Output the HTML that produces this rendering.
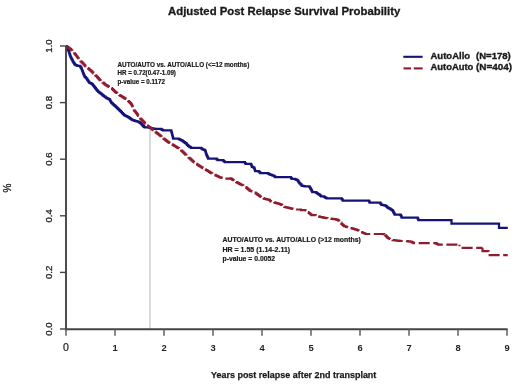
<!DOCTYPE html>
<html><head><meta charset="utf-8"><style>
html,body{margin:0;padding:0;background:#fff;width:520px;height:388px;overflow:hidden}
svg{display:block;filter:blur(0.35px);font-family:"Liberation Sans",sans-serif}
</style></head><body>
<svg width="520" height="388" viewBox="0 0 520 388">
<rect width="520" height="388" fill="#fff"/>
<text x="168.00" y="14.7" font-size="11.3" font-weight="bold" fill="#1a1a1a" stroke="#1a1a1a" stroke-width="0.3" textLength="232.23" lengthAdjust="spacingAndGlyphs">Adjusted Post Relapse Survival Probability</text>

<line x1="150" y1="129" x2="150" y2="329" stroke="#bdbdbd" stroke-width="1.1"/>
<path d="M66.00,46.00 L66.52,46.00 L66.52,47.04 L67.04,47.04 L67.04,48.08 L67.56,48.08 L67.56,49.12 L68.08,49.12 L68.08,50.16 L68.60,50.16 L68.60,51.20 L68.95,51.20 L68.95,52.23 L69.30,52.23 L69.30,53.27 L69.65,53.27 L69.65,54.30 L70.00,54.30 L70.00,55.33 L70.35,55.33 L70.35,56.37 L70.70,56.37 L70.70,57.40 L71.22,57.40 L71.22,58.42 L71.75,58.42 L71.75,59.45 L72.28,59.45 L72.28,60.48 L72.80,60.48 L72.80,61.50 L73.47,61.50 L73.47,62.53 L74.13,62.53 L74.13,63.57 L74.80,63.57 L74.80,64.60 L75.67,64.60 L75.67,65.03 L76.53,65.03 L76.53,65.47 L77.40,65.47 L77.40,65.90 L80.00,65.90 L80.00,66.50 L80.75,66.50 L80.75,67.70 L81.50,67.70 L81.50,68.90 L81.92,68.90 L81.92,70.03 L82.35,70.03 L82.35,71.15 L82.78,71.15 L82.78,72.28 L83.20,72.28 L83.20,73.40 L83.60,73.40 L83.60,74.30 L84.00,74.30 L84.00,75.20 L84.40,75.20 L84.40,76.10 L84.80,76.10 L84.80,77.00 L85.95,77.00 L85.95,78.25 L87.10,78.25 L87.10,79.50 L87.77,79.50 L87.77,80.50 L88.43,80.50 L88.43,81.50 L89.10,81.50 L89.10,82.50 L90.15,82.50 L90.15,83.05 L91.20,83.05 L91.20,83.60 L92.00,83.60 L92.00,84.10 L92.78,84.10 L92.78,85.12 L93.55,85.12 L93.55,86.15 L94.32,86.15 L94.32,87.17 L95.10,87.17 L95.10,88.20 L95.88,88.20 L95.88,89.12 L96.65,89.12 L96.65,90.05 L97.42,90.05 L97.42,90.98 L98.20,90.98 L98.20,91.90 L99.22,91.90 L99.22,92.68 L100.25,92.68 L100.25,93.45 L101.28,93.45 L101.28,94.22 L102.30,94.22 L102.30,95.00 L103.33,95.00 L103.33,95.75 L104.35,95.75 L104.35,96.50 L105.38,96.50 L105.38,97.25 L106.40,97.25 L106.40,98.00 L107.43,98.00 L107.43,98.53 L108.47,98.53 L108.47,99.07 L109.50,99.07 L109.50,99.60 L110.03,99.60 L110.03,100.50 L110.55,100.50 L110.55,101.40 L111.07,101.40 L111.07,102.30 L111.60,102.30 L111.60,103.20 L112.62,103.20 L112.62,104.10 L113.65,104.10 L113.65,105.00 L114.67,105.00 L114.67,105.90 L115.70,105.90 L115.70,106.80 L116.72,106.80 L116.72,107.83 L117.75,107.83 L117.75,108.85 L118.78,108.85 L118.78,109.88 L119.80,109.88 L119.80,110.90 L120.85,110.90 L120.85,111.95 L121.90,111.95 L121.90,113.00 L122.95,113.00 L122.95,114.05 L124.00,114.05 L124.00,115.10 L125.00,115.10 L125.00,115.60 L126.00,115.60 L126.00,116.10 L127.00,116.10 L127.00,116.60 L128.00,116.60 L128.00,117.10 L128.88,117.10 L128.88,117.72 L129.75,117.72 L129.75,118.35 L130.62,118.35 L130.62,118.97 L131.50,118.97 L131.50,119.60 L132.53,119.60 L132.53,120.00 L133.57,120.00 L133.57,120.40 L134.60,120.40 L134.60,120.80 L135.63,120.80 L135.63,121.07 L136.67,121.07 L136.67,121.33 L137.70,121.33 L137.70,121.60 L138.73,121.60 L138.73,122.23 L139.77,122.23 L139.77,122.87 L140.80,122.87 L140.80,123.50 L141.57,123.50 L141.57,124.40 L142.33,124.40 L142.33,125.30 L143.10,125.30 L143.10,126.20 L143.90,126.20 L143.90,126.80 L144.70,126.80 L144.70,127.40 L147.80,127.40 L147.80,127.40 L148.83,127.40 L148.83,127.67 L149.87,127.67 L149.87,127.93 L150.90,127.93 L150.90,128.20 L151.93,128.20 L151.93,128.35 L152.95,128.35 L152.95,128.50 L153.97,128.50 L153.97,128.65 L155.00,128.65 L155.00,128.80 L161.20,128.80 L161.20,129.30 L162.10,129.30 L162.10,129.80 L163.00,129.80 L163.00,130.30 L171.00,130.30 L171.00,130.40 L171.28,130.40 L171.28,131.43 L171.55,131.43 L171.55,132.45 L171.82,132.45 L171.82,133.47 L172.10,133.47 L172.10,134.50 L172.38,134.50 L172.38,135.53 L172.65,135.53 L172.65,136.55 L172.92,136.55 L172.92,137.57 L173.20,137.57 L173.20,138.60 L178.70,138.60 L178.70,139.10 L179.73,139.10 L179.73,139.60 L180.77,139.60 L180.77,140.10 L181.80,140.10 L181.80,140.60 L182.83,140.60 L182.83,141.38 L183.85,141.38 L183.85,142.15 L184.88,142.15 L184.88,142.92 L185.90,142.92 L185.90,143.70 L186.95,143.70 L186.95,144.75 L188.00,144.75 L188.00,145.80 L189.00,145.80 L189.00,146.50 L190.00,146.50 L190.00,147.20 L191.00,147.20 L191.00,147.90 L200.30,147.90 L200.30,147.90 L201.35,147.90 L201.35,148.60 L202.40,148.60 L202.40,149.30 L203.27,149.30 L203.27,149.63 L204.13,149.63 L204.13,149.97 L205.00,149.97 L205.00,150.30 L205.30,150.30 L205.30,151.24 L205.60,151.24 L205.60,152.18 L205.90,152.18 L205.90,153.12 L206.20,153.12 L206.20,154.06 L206.50,154.06 L206.50,155.00 L206.93,155.00 L206.93,155.90 L207.35,155.90 L207.35,156.80 L207.77,156.80 L207.77,157.70 L208.20,157.70 L208.20,158.60 L215.80,158.60 L215.80,158.60 L216.65,158.60 L216.65,159.40 L217.50,159.40 L217.50,160.20 L223.00,160.20 L223.00,160.60 L223.90,160.60 L223.90,161.40 L224.80,161.40 L224.80,162.20 L230.00,162.20 L230.00,162.20 L244.30,162.20 L244.30,162.20 L244.95,162.20 L244.95,163.00 L245.60,163.00 L245.60,163.80 L251.00,163.80 L251.00,164.20 L251.33,164.20 L251.33,165.10 L251.67,165.10 L251.67,166.00 L252.00,166.00 L252.00,166.90 L253.05,166.90 L253.05,167.35 L254.10,167.35 L254.10,167.80 L254.43,167.80 L254.43,168.87 L254.77,168.87 L254.77,169.93 L255.10,169.93 L255.10,171.00 L258.70,171.00 L258.70,171.50 L259.50,171.50 L259.50,172.25 L260.30,172.25 L260.30,173.00 L268.00,173.00 L268.00,173.60 L269.00,173.60 L269.00,174.10 L270.00,174.10 L270.00,174.60 L271.03,174.60 L271.03,174.93 L272.07,174.93 L272.07,175.27 L273.10,175.27 L273.10,175.60 L274.15,175.60 L274.15,176.40 L275.20,176.40 L275.20,177.20 L290.40,177.20 L290.40,177.20 L291.05,177.20 L291.05,178.00 L291.70,178.00 L291.70,178.80 L295.30,178.80 L295.30,179.30 L296.35,179.30 L296.35,179.80 L297.40,179.80 L297.40,180.30 L298.07,180.30 L298.07,181.33 L298.73,181.33 L298.73,182.37 L299.40,182.37 L299.40,183.40 L300.45,183.40 L300.45,184.45 L301.50,184.45 L301.50,185.50 L302.53,185.50 L302.53,185.80 L303.57,185.80 L303.57,186.10 L304.60,186.10 L304.60,186.40 L309.20,186.40 L309.20,186.50 L309.73,186.50 L309.73,187.40 L310.25,187.40 L310.25,188.30 L310.77,188.30 L310.77,189.20 L311.30,189.20 L311.30,190.10 L311.80,190.10 L311.80,191.15 L312.30,191.15 L312.30,192.20 L315.90,192.20 L315.90,192.70 L316.93,192.70 L316.93,193.37 L317.97,193.37 L317.97,194.03 L319.00,194.03 L319.00,194.70 L320.05,194.70 L320.05,195.50 L321.10,195.50 L321.10,196.30 L324.00,196.30 L324.00,196.90 L324.87,196.90 L324.87,197.40 L325.73,197.40 L325.73,197.90 L326.60,197.90 L326.60,198.40 L340.80,198.40 L340.80,198.40 L341.75,198.40 L341.75,199.45 L342.70,199.45 L342.70,200.50 L368.40,200.50 L368.40,200.60 L369.05,200.60 L369.05,201.60 L369.70,201.60 L369.70,202.60 L379.30,202.60 L379.30,202.60 L380.30,202.60 L380.30,203.70 L381.30,203.70 L381.30,204.80 L382.25,204.80 L382.25,204.98 L383.20,204.98 L383.20,205.15 L384.15,205.15 L384.15,205.32 L385.10,205.32 L385.10,205.50 L386.10,205.50 L386.10,206.45 L387.10,206.45 L387.10,207.40 L388.23,207.40 L388.23,208.07 L389.37,208.07 L389.37,208.73 L390.50,208.73 L390.50,209.40 L391.60,209.40 L391.60,210.10 L392.70,210.10 L392.70,210.80 L393.20,210.80 L393.20,211.78 L393.70,211.78 L393.70,212.75 L394.20,212.75 L394.20,213.72 L394.70,213.72 L394.70,214.70 L400.40,214.70 L400.40,214.80 L400.83,214.80 L400.83,215.70 L401.27,215.70 L401.27,216.60 L401.70,216.60 L401.70,217.50 L417.20,217.50 L417.20,217.50 L417.63,217.50 L417.63,218.40 L418.07,218.40 L418.07,219.30 L418.50,219.30 L418.50,220.20 L451.00,220.20 L451.00,220.20 L451.50,220.20 L451.50,223.60 L498.50,223.60 L498.50,223.60 L499.00,223.60 L499.00,227.90 L507.80,227.90 L507.80,227.90" fill="none" stroke="#151476" stroke-width="2.25" stroke-linejoin="miter"/>
<path d="M66.00,46.00 L67.05,46.00 L67.05,46.80 L68.10,46.80 L68.10,47.60 L69.15,47.60 L69.15,48.40 L70.20,48.40 L70.20,49.20 L71.22,49.20 L71.22,50.23 L72.25,50.23 L72.25,51.25 L73.28,51.25 L73.28,52.27 L74.30,52.27 L74.30,53.30 L75.04,53.30 L75.04,54.29 L75.79,54.29 L75.79,55.27 L76.53,55.27 L76.53,56.26 L77.27,56.26 L77.27,57.24 L78.01,57.24 L78.01,58.23 L78.76,58.23 L78.76,59.21 L79.50,59.21 L79.50,60.20 L80.52,60.20 L80.52,61.28 L81.54,61.28 L81.54,62.36 L82.56,62.36 L82.56,63.44 L83.58,63.44 L83.58,64.52 L84.60,64.52 L84.60,65.60 L85.53,65.60 L85.53,66.40 L86.47,66.40 L86.47,67.20 L87.40,67.20 L87.40,68.00 L88.33,68.00 L88.33,68.80 L89.27,68.80 L89.27,69.60 L90.20,69.60 L90.20,70.40 L91.22,70.40 L91.22,71.38 L92.24,71.38 L92.24,72.36 L93.26,72.36 L93.26,73.34 L94.28,73.34 L94.28,74.32 L95.30,74.32 L95.30,75.30 L96.17,75.30 L96.17,76.25 L97.03,76.25 L97.03,77.20 L97.90,77.20 L97.90,78.15 L98.77,78.15 L98.77,79.10 L99.63,79.10 L99.63,80.05 L100.50,80.05 L100.50,81.00 L101.52,81.00 L101.52,81.82 L102.54,81.82 L102.54,82.64 L103.56,82.64 L103.56,83.46 L104.58,83.46 L104.58,84.28 L105.60,84.28 L105.60,85.10 L106.68,85.10 L106.68,85.70 L107.76,85.70 L107.76,86.30 L108.84,86.30 L108.84,86.90 L109.92,86.90 L109.92,87.50 L111.00,87.50 L111.00,88.10 L112.05,88.10 L112.05,89.12 L113.10,89.12 L113.10,90.15 L114.15,90.15 L114.15,91.17 L115.20,91.17 L115.20,92.20 L116.22,92.20 L116.22,92.92 L117.24,92.92 L117.24,93.64 L118.26,93.64 L118.26,94.36 L119.28,94.36 L119.28,95.08 L120.30,95.08 L120.30,95.80 L121.34,95.80 L121.34,96.44 L122.38,96.44 L122.38,97.08 L123.42,97.08 L123.42,97.72 L124.46,97.72 L124.46,98.36 L125.50,98.36 L125.50,99.00 L126.30,99.00 L126.30,99.55 L127.10,99.55 L127.10,100.10 L128.10,100.10 L128.10,101.13 L129.10,101.13 L129.10,102.17 L130.10,102.17 L130.10,103.20 L131.05,103.20 L131.05,104.35 L132.00,104.35 L132.00,105.50 L132.38,105.50 L132.38,106.46 L132.76,106.46 L132.76,107.42 L133.14,107.42 L133.14,108.38 L133.52,108.38 L133.52,109.34 L133.90,109.34 L133.90,110.30 L134.62,110.30 L134.62,111.20 L135.35,111.20 L135.35,112.10 L136.08,112.10 L136.08,113.00 L136.80,113.00 L136.80,113.90 L137.43,113.90 L137.43,114.85 L138.05,114.85 L138.05,115.80 L138.68,115.80 L138.68,116.75 L139.30,116.75 L139.30,117.70 L140.25,117.70 L140.25,118.67 L141.20,118.67 L141.20,119.65 L142.15,119.65 L142.15,120.62 L143.10,120.62 L143.10,121.60 L144.07,121.60 L144.07,122.57 L145.05,122.57 L145.05,123.55 L146.03,123.55 L146.03,124.53 L147.00,124.53 L147.00,125.50 L147.97,125.50 L147.97,126.25 L148.95,126.25 L148.95,127.00 L149.93,127.00 L149.93,127.75 L150.90,127.75 L150.90,128.50 L151.85,128.50 L151.85,129.28 L152.80,129.28 L152.80,130.05 L153.75,130.05 L153.75,130.82 L154.70,130.82 L154.70,131.60 L155.67,131.60 L155.67,132.38 L156.65,132.38 L156.65,133.15 L157.62,133.15 L157.62,133.92 L158.60,133.92 L158.60,134.70 L159.57,134.70 L159.57,135.47 L160.55,135.47 L160.55,136.25 L161.53,136.25 L161.53,137.03 L162.50,137.03 L162.50,137.80 L163.44,137.80 L163.44,138.58 L164.38,138.58 L164.38,139.36 L165.32,139.36 L165.32,140.14 L166.26,140.14 L166.26,140.92 L167.20,140.92 L167.20,141.70 L168.28,141.70 L168.28,142.35 L169.37,142.35 L169.37,143.00 L170.45,143.00 L170.45,143.65 L171.53,143.65 L171.53,144.30 L172.62,144.30 L172.62,144.95 L173.70,144.95 L173.70,145.60 L174.77,145.60 L174.77,146.25 L175.83,146.25 L175.83,146.90 L176.90,146.90 L176.90,147.55 L177.97,147.55 L177.97,148.20 L179.03,148.20 L179.03,148.85 L180.10,148.85 L180.10,149.50 L181.15,149.50 L181.15,150.55 L182.20,150.55 L182.20,151.60 L183.25,151.60 L183.25,152.65 L184.30,152.65 L184.30,153.70 L185.35,153.70 L185.35,154.75 L186.40,154.75 L186.40,155.80 L187.48,155.80 L187.48,156.77 L188.57,156.77 L188.57,157.73 L189.65,157.73 L189.65,158.70 L190.73,158.70 L190.73,159.67 L191.82,159.67 L191.82,160.63 L192.90,160.63 L192.90,161.60 L193.97,161.60 L193.97,162.35 L195.03,162.35 L195.03,163.10 L196.10,163.10 L196.10,163.85 L197.17,163.85 L197.17,164.60 L198.23,164.60 L198.23,165.35 L199.30,165.35 L199.30,166.10 L200.38,166.10 L200.38,166.75 L201.47,166.75 L201.47,167.40 L202.55,167.40 L202.55,168.05 L203.63,168.05 L203.63,168.70 L204.72,168.70 L204.72,169.35 L205.80,169.35 L205.80,170.00 L206.87,170.00 L206.87,170.63 L207.93,170.63 L207.93,171.27 L209.00,171.27 L209.00,171.90 L210.07,171.90 L210.07,172.53 L211.13,172.53 L211.13,173.17 L212.20,173.17 L212.20,173.80 L213.28,173.80 L213.28,174.33 L214.37,174.33 L214.37,174.87 L215.45,174.87 L215.45,175.40 L216.53,175.40 L216.53,175.93 L217.62,175.93 L217.62,176.47 L218.70,176.47 L218.70,177.00 L219.72,177.00 L219.72,177.32 L220.74,177.32 L220.74,177.64 L221.76,177.64 L221.76,177.96 L222.78,177.96 L222.78,178.28 L223.80,178.28 L223.80,178.60 L230.20,178.60 L230.20,178.30 L231.15,178.30 L231.15,178.95 L232.10,178.95 L232.10,179.60 L233.05,179.60 L233.05,180.25 L234.00,180.25 L234.00,180.90 L235.04,180.90 L235.04,181.48 L236.08,181.48 L236.08,182.06 L237.12,182.06 L237.12,182.64 L238.16,182.64 L238.16,183.22 L239.20,183.22 L239.20,183.80 L240.22,183.80 L240.22,184.28 L241.24,184.28 L241.24,184.76 L242.26,184.76 L242.26,185.24 L243.28,185.24 L243.28,185.72 L244.30,185.72 L244.30,186.20 L245.34,186.20 L245.34,187.08 L246.38,187.08 L246.38,187.96 L247.42,187.96 L247.42,188.84 L248.46,188.84 L248.46,189.72 L249.50,189.72 L249.50,190.60 L250.52,190.60 L250.52,190.98 L251.54,190.98 L251.54,191.36 L252.56,191.36 L252.56,191.74 L253.58,191.74 L253.58,192.12 L254.60,192.12 L254.60,192.50 L255.64,192.50 L255.64,193.28 L256.68,193.28 L256.68,194.06 L257.72,194.06 L257.72,194.84 L258.76,194.84 L258.76,195.62 L259.80,195.62 L259.80,196.40 L260.77,196.40 L260.77,196.97 L261.75,196.97 L261.75,197.55 L262.73,197.55 L262.73,198.12 L263.70,198.12 L263.70,198.70 L264.72,198.70 L264.72,198.92 L265.74,198.92 L265.74,199.14 L266.76,199.14 L266.76,199.36 L267.78,199.36 L267.78,199.58 L268.80,199.58 L268.80,199.80 L270.00,199.80 L270.00,201.10 L271.04,201.10 L271.04,201.44 L272.08,201.44 L272.08,201.78 L273.12,201.78 L273.12,202.12 L274.16,202.12 L274.16,202.46 L275.20,202.46 L275.20,202.80 L276.22,202.80 L276.22,203.10 L277.24,203.10 L277.24,203.40 L278.26,203.40 L278.26,203.70 L279.28,203.70 L279.28,204.00 L280.30,204.00 L280.30,204.30 L281.27,204.30 L281.27,204.95 L282.25,204.95 L282.25,205.60 L283.23,205.60 L283.23,206.25 L284.20,206.25 L284.20,206.90 L285.22,206.90 L285.22,207.16 L286.24,207.16 L286.24,207.42 L287.26,207.42 L287.26,207.68 L288.28,207.68 L288.28,207.94 L289.30,207.94 L289.30,208.20 L290.38,208.20 L290.38,208.42 L291.47,208.42 L291.47,208.63 L292.55,208.63 L292.55,208.85 L293.63,208.85 L293.63,209.07 L294.72,209.07 L294.72,209.28 L295.80,209.28 L295.80,209.50 L300.90,209.50 L300.90,210.10 L305.50,210.10 L305.50,210.50 L306.53,210.50 L306.53,211.33 L307.57,211.33 L307.57,212.17 L308.60,212.17 L308.60,213.00 L309.53,213.00 L309.53,213.70 L310.47,213.70 L310.47,214.40 L311.40,214.40 L311.40,215.10 L315.80,215.10 L315.80,215.60 L316.90,215.60 L316.90,215.95 L318.00,215.95 L318.00,216.30 L319.10,216.30 L319.10,216.65 L320.20,216.65 L320.20,217.00 L321.27,217.00 L321.27,217.20 L322.33,217.20 L322.33,217.40 L323.40,217.40 L323.40,217.60 L324.47,217.60 L324.47,217.80 L325.53,217.80 L325.53,218.00 L326.60,218.00 L326.60,218.20 L327.56,218.20 L327.56,218.32 L328.53,218.32 L328.53,218.45 L329.49,218.45 L329.49,218.57 L330.45,218.57 L330.45,218.70 L331.41,218.70 L331.41,218.82 L332.38,218.82 L332.38,218.95 L333.34,218.95 L333.34,219.07 L334.30,219.07 L334.30,219.20 L335.37,219.20 L335.37,219.40 L336.43,219.40 L336.43,219.60 L337.50,219.60 L337.50,219.80 L338.35,219.80 L338.35,220.65 L339.20,220.65 L339.20,221.50 L340.30,221.50 L340.30,222.65 L341.40,222.65 L341.40,223.80 L342.27,223.80 L342.27,224.60 L343.13,224.60 L343.13,225.40 L344.00,225.40 L344.00,226.20 L345.08,226.20 L345.08,226.50 L346.17,226.50 L346.17,226.80 L347.25,226.80 L347.25,227.10 L348.33,227.10 L348.33,227.40 L349.42,227.40 L349.42,227.70 L350.50,227.70 L350.50,228.00 L351.57,228.00 L351.57,228.33 L352.63,228.33 L352.63,228.67 L353.70,228.67 L353.70,229.00 L354.77,229.00 L354.77,229.33 L355.83,229.33 L355.83,229.67 L356.90,229.67 L356.90,230.00 L357.94,230.00 L357.94,230.50 L358.98,230.50 L358.98,231.00 L360.02,231.00 L360.02,231.50 L361.06,231.50 L361.06,232.00 L362.10,232.00 L362.10,232.50 L363.23,232.50 L363.23,233.00 L364.37,233.00 L364.37,233.50 L365.50,233.50 L365.50,234.00 L383.20,234.00 L383.20,234.10 L384.20,234.10 L384.20,234.75 L385.20,234.75" fill="none" stroke="#901a2e" stroke-width="2.2" stroke-dasharray="11 3.6" stroke-dashoffset="0.00"/>
<path d="M385.20,234.75 L385.20,235.40 L386.03,235.40 L386.03,236.27 L386.87,236.27 L386.87,237.13 L387.70,237.13 L387.70,238.00 L388.68,238.00 L388.68,238.50 L389.65,238.50 L389.65,239.00 L390.62,239.00 L390.62,239.50 L391.60,239.50 L391.60,240.00 L392.60,240.00 L392.60,240.11 L393.60,240.11 L393.60,240.22 L394.60,240.22 L394.60,240.33 L395.60,240.33 L395.60,240.44 L396.60,240.44 L396.60,240.56 L397.60,240.56 L397.60,240.67 L398.60,240.67 L398.60,240.78 L399.60,240.78 L399.60,240.89 L400.60,240.89 L400.60,241.00 L406.00,241.00 L406.94,241.00 L406.94,241.14 L407.88,241.14 L407.88,241.28 L408.82,241.28 L408.82,241.42 L409.76,241.42 L409.76,241.56 L410.70,241.56 L410.70,241.70 L411.63,241.70 L411.63,242.20 L412.57,242.20 L412.57,242.70 L413.50,242.70 L413.50,243.20 L431.30,243.20 L435.80,243.20 L435.80,243.40 L436.67,243.40 L436.67,243.83 L437.53,243.83 L437.53,244.27 L438.40,244.27 L438.40,244.70 L459.50,244.70" fill="none" stroke="#901a2e" stroke-width="2.2" stroke-dasharray="11 3.6" stroke-dashoffset="1.85"/>
<path d="M459.50,244.70 L459.50,245.00 L459.50,247.80 L482.50,247.80" fill="none" stroke="#901a2e" stroke-width="2.2" stroke-dasharray="11 3.6" stroke-dashoffset="9.40"/>
<path d="M482.50,247.80" fill="none" stroke="#901a2e" stroke-width="2.2" stroke-dasharray="11 3.6" stroke-dashoffset="13.20"/>
<path d="M482.50,247.80 L482.50,251.10 L488.50,251.10 L488.50,255.20 L507.70,255.20" fill="none" stroke="#901a2e" stroke-width="2.2" stroke-dasharray="11 3.6" stroke-dashoffset="1.10"/>
<path d="M507.70,255.20" fill="none" stroke="#901a2e" stroke-width="2.2" stroke-dasharray="11 3.6" stroke-dashoffset="11.30"/>

<line x1="66" y1="46" x2="66" y2="330.2" stroke="#444" stroke-width="1.9"/>
<line x1="65.1" y1="329.2" x2="507.6" y2="329.2" stroke="#444" stroke-width="1.9"/>
<line x1="60" y1="329.0" x2="66" y2="329.0" stroke="#444" stroke-width="1.4"/>
<text transform="translate(52.3,329.0) rotate(-90)" text-anchor="middle" font-size="9.6" fill="#222" stroke="#222" stroke-width="0.3">0.0</text>
<line x1="60" y1="272.4" x2="66" y2="272.4" stroke="#444" stroke-width="1.4"/>
<text transform="translate(52.3,272.4) rotate(-90)" text-anchor="middle" font-size="9.6" fill="#222" stroke="#222" stroke-width="0.3">0.2</text>
<line x1="60" y1="215.8" x2="66" y2="215.8" stroke="#444" stroke-width="1.4"/>
<text transform="translate(52.3,215.8) rotate(-90)" text-anchor="middle" font-size="9.6" fill="#222" stroke="#222" stroke-width="0.3">0.4</text>
<line x1="60" y1="159.2" x2="66" y2="159.2" stroke="#444" stroke-width="1.4"/>
<text transform="translate(52.3,159.2) rotate(-90)" text-anchor="middle" font-size="9.6" fill="#222" stroke="#222" stroke-width="0.3">0.6</text>
<line x1="60" y1="102.6" x2="66" y2="102.6" stroke="#444" stroke-width="1.4"/>
<text transform="translate(52.3,102.6) rotate(-90)" text-anchor="middle" font-size="9.6" fill="#222" stroke="#222" stroke-width="0.3">0.8</text>
<line x1="60" y1="46.0" x2="66" y2="46.0" stroke="#444" stroke-width="1.4"/>
<text transform="translate(52.3,46.0) rotate(-90)" text-anchor="middle" font-size="9.6" fill="#222" stroke="#222" stroke-width="0.3">1.0</text>
<line x1="66" y1="329" x2="66" y2="335.8" stroke="#555" stroke-width="1.4"/>
<text x="66" y="351.2" text-anchor="middle" font-size="10.6" fill="#222" stroke="#222" stroke-width="0.2">0</text>
<line x1="115" y1="329" x2="115" y2="335.8" stroke="#555" stroke-width="1.4"/>
<text x="115" y="351.2" text-anchor="middle" font-size="9.4" font-weight="bold" fill="#222">1</text>
<line x1="164" y1="329" x2="164" y2="335.8" stroke="#555" stroke-width="1.4"/>
<text x="164" y="351.2" text-anchor="middle" font-size="9.4" font-weight="bold" fill="#222">2</text>
<line x1="213" y1="329" x2="213" y2="335.8" stroke="#555" stroke-width="1.4"/>
<text x="213" y="351.2" text-anchor="middle" font-size="9.4" font-weight="bold" fill="#222">3</text>
<line x1="262" y1="329" x2="262" y2="335.8" stroke="#555" stroke-width="1.4"/>
<text x="262" y="351.2" text-anchor="middle" font-size="9.4" font-weight="bold" fill="#222">4</text>
<line x1="311" y1="329" x2="311" y2="335.8" stroke="#555" stroke-width="1.4"/>
<text x="311" y="351.2" text-anchor="middle" font-size="9.4" font-weight="bold" fill="#222">5</text>
<line x1="360" y1="329" x2="360" y2="335.8" stroke="#555" stroke-width="1.4"/>
<text x="360" y="351.2" text-anchor="middle" font-size="9.4" font-weight="bold" fill="#222">6</text>
<line x1="409" y1="329" x2="409" y2="335.8" stroke="#555" stroke-width="1.4"/>
<text x="409" y="351.2" text-anchor="middle" font-size="9.4" font-weight="bold" fill="#222">7</text>
<line x1="458" y1="329" x2="458" y2="335.8" stroke="#555" stroke-width="1.4"/>
<text x="458" y="351.2" text-anchor="middle" font-size="9.4" font-weight="bold" fill="#222">8</text>
<line x1="507" y1="329" x2="507" y2="335.8" stroke="#555" stroke-width="1.4"/>
<text x="507" y="351.2" text-anchor="middle" font-size="9.4" font-weight="bold" fill="#222">9</text>

<text transform="translate(10.8,188) rotate(-90)" text-anchor="middle" font-size="10" fill="#222" stroke="#222" stroke-width="0.3">%</text>
<text x="211.00" y="378.4" font-size="9.3" font-weight="bold" fill="#1a1a1a" stroke="#1a1a1a" stroke-width="0.25" textLength="165.33" lengthAdjust="spacingAndGlyphs">Years post relapse after 2nd transplant</text>

<line x1="403.3" y1="56.8" x2="422.6" y2="56.8" stroke="#151476" stroke-width="2.1"/>
<line x1="403.5" y1="68.4" x2="411" y2="68.4" stroke="#901a2e" stroke-width="2.1"/><line x1="413.8" y1="68.4" x2="422.6" y2="68.4" stroke="#901a2e" stroke-width="2.1"/>
<text x="430.50" y="59.0" font-size="9.5" font-weight="bold" fill="#1a1a1a" stroke="#1a1a1a" stroke-width="0.35" textLength="39.58" lengthAdjust="spacingAndGlyphs">AutoAllo</text>
<text x="476.00" y="59.0" font-size="9.5" font-weight="bold" fill="#1a1a1a" stroke="#1a1a1a" stroke-width="0.35" textLength="34.81" lengthAdjust="spacingAndGlyphs">(N=178)</text>
<text x="430.50" y="70.4" font-size="9.5" font-weight="bold" fill="#1a1a1a" stroke="#1a1a1a" stroke-width="0.35" textLength="42.88" lengthAdjust="spacingAndGlyphs">AutoAuto</text>
<text x="476.00" y="70.4" font-size="9.5" font-weight="bold" fill="#1a1a1a" stroke="#1a1a1a" stroke-width="0.35" textLength="36.02" lengthAdjust="spacingAndGlyphs">(N=404)</text>

<text x="117.50" y="66.7" font-size="6.4" font-weight="bold" fill="#1a1a1a" stroke="#1a1a1a" stroke-width="0.2" textLength="131.78" lengthAdjust="spacingAndGlyphs">AUTO/AUTO vs. AUTO/ALLO (&lt;=12 months)</text>
<text x="117.50" y="75.4" font-size="6.4" font-weight="bold" fill="#1a1a1a" stroke="#1a1a1a" stroke-width="0.2" textLength="58.44" lengthAdjust="spacingAndGlyphs">HR = 0.72(0.47-1.09)</text>
<text x="117.50" y="83.6" font-size="6.4" font-weight="bold" fill="#1a1a1a" stroke="#1a1a1a" stroke-width="0.2" textLength="47.46" lengthAdjust="spacingAndGlyphs">p-value = 0.1172</text>
<text x="222.50" y="241.6" font-size="6.6" font-weight="bold" fill="#1a1a1a" stroke="#1a1a1a" stroke-width="0.2" textLength="138.34" lengthAdjust="spacingAndGlyphs">AUTO/AUTO vs. AUTO/ALLO (&gt;12 months)</text>
<text x="222.50" y="251.5" font-size="6.6" font-weight="bold" fill="#1a1a1a" stroke="#1a1a1a" stroke-width="0.2" textLength="67.64" lengthAdjust="spacingAndGlyphs">HR = 1.55 (1.14-2.11)</text>
<text x="222.50" y="261.0" font-size="6.6" font-weight="bold" fill="#1a1a1a" stroke="#1a1a1a" stroke-width="0.2" textLength="52.62" lengthAdjust="spacingAndGlyphs">p-value = 0.0052</text>

</svg>
</body></html>
